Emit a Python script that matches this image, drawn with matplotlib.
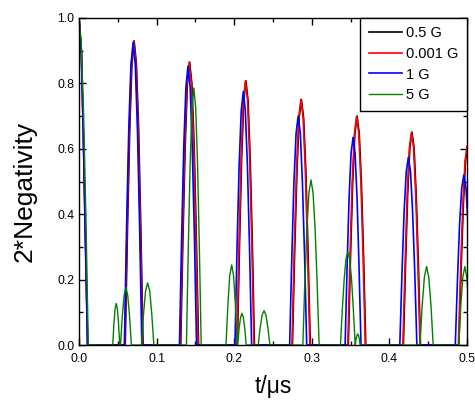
import matplotlib
matplotlib.use("Agg")
import matplotlib.pyplot as plt
from matplotlib.ticker import MultipleLocator

plt.rcParams['font.family'] = ['Liberation Sans', 'DejaVu Sans']

# 0.001 G (red)
red_t = [0.0, 0.003, 0.0055, 0.008, 0.011,
         0.059, 0.0619, 0.0648, 0.0676, 0.0705, 0.0734, 0.0763, 0.0791, 0.082,
         0.1305, 0.1334, 0.1363, 0.1391, 0.142, 0.1449, 0.1478, 0.1506, 0.1535,
         0.2035, 0.2063, 0.209, 0.2118, 0.2145, 0.2173, 0.22, 0.2228, 0.2255,
         0.2745, 0.2774, 0.2803, 0.2831, 0.286, 0.2889, 0.2918, 0.2946, 0.2975,
         0.3465, 0.3493, 0.3521, 0.355, 0.3578, 0.3606, 0.3634, 0.3662, 0.369,
         0.4175, 0.4203, 0.423, 0.4258, 0.4285, 0.4313, 0.434, 0.4368, 0.4395,
         0.489, 0.4919, 0.4948, 0.4976, 0.5005, 0.5034]
red_y = [1.0, 0.9, 0.65, 0.35, 0.0,
         0, 0.356, 0.658, 0.859, 0.93, 0.859, 0.658, 0.356, 0,
         0, 0.331, 0.612, 0.799, 0.865, 0.799, 0.612, 0.331, 0,
         0, 0.309, 0.571, 0.747, 0.808, 0.747, 0.571, 0.309, 0,
         0, 0.288, 0.531, 0.694, 0.751, 0.694, 0.531, 0.288, 0,
         0, 0.268, 0.495, 0.647, 0.70, 0.647, 0.495, 0.268, 0,
         0, 0.249, 0.460, 0.602, 0.651, 0.602, 0.460, 0.249, 0,
         0, 0.234, 0.431, 0.564, 0.61, 0.564]

# 0.5 G (black)
black_t = [0.0, 0.003, 0.0056, 0.0082, 0.0112,
           0.0596, 0.0625, 0.0654, 0.0682, 0.0711, 0.074, 0.0769, 0.0797, 0.0826,
           0.1311, 0.134, 0.1369, 0.1397, 0.1426, 0.1455, 0.1484, 0.1512, 0.1541,
           0.2041, 0.2069, 0.2096, 0.2124, 0.2151, 0.2179, 0.2206, 0.2234, 0.2261,
           0.2751, 0.278, 0.2809, 0.2837, 0.2866, 0.2895, 0.2924, 0.2952, 0.2981,
           0.3471, 0.3499, 0.3527, 0.3556, 0.3584, 0.3612, 0.364, 0.3668, 0.3696,
           0.4181, 0.4209, 0.4236, 0.4264, 0.4291, 0.4319, 0.4346, 0.4374, 0.4401,
           0.4896, 0.4925, 0.4954, 0.4982, 0.5011, 0.504]
black_y = [1.0, 0.9, 0.65, 0.35, 0.0,
           0, 0.356, 0.658, 0.859, 0.93, 0.859, 0.658, 0.356, 0,
           0, 0.331, 0.612, 0.799, 0.865, 0.799, 0.612, 0.331, 0,
           0, 0.309, 0.571, 0.747, 0.808, 0.747, 0.571, 0.309, 0,
           0, 0.288, 0.531, 0.694, 0.751, 0.694, 0.531, 0.288, 0,
           0, 0.268, 0.495, 0.647, 0.70, 0.647, 0.495, 0.268, 0,
           0, 0.249, 0.460, 0.602, 0.651, 0.602, 0.460, 0.249, 0,
           0, 0.234, 0.431, 0.564, 0.61, 0.564]

# 1 G (blue)
blue_t = [0.0, 0.003, 0.0055, 0.008, 0.011,
          0.0585, 0.0613, 0.0641, 0.0669, 0.0698, 0.0726, 0.0754, 0.0782, 0.081,
          0.1295, 0.1323, 0.135, 0.1378, 0.1405, 0.1433, 0.146, 0.1488, 0.1515,
          0.201, 0.2037, 0.2064, 0.2091, 0.2118, 0.2144, 0.2171, 0.2198, 0.2225,
          0.2715, 0.2743, 0.277, 0.2798, 0.2825, 0.2853, 0.288, 0.2908, 0.2935,
          0.343, 0.3456, 0.3481, 0.3507, 0.3533, 0.3558, 0.3584, 0.3609, 0.3635,
          0.4135, 0.4163, 0.419, 0.4218, 0.4245, 0.4273, 0.43, 0.4328, 0.4355,
          0.485, 0.4878, 0.4905, 0.4933, 0.496, 0.4988, 0.5015, 0.5043, 0.507]
blue_y = [1.0, 0.9, 0.65, 0.35, 0.0,
          0, 0.354, 0.654, 0.855, 0.925, 0.855, 0.654, 0.354, 0,
          0, 0.327, 0.603, 0.788, 0.853, 0.788, 0.603, 0.327, 0,
          0, 0.297, 0.548, 0.716, 0.775, 0.716, 0.548, 0.297, 0,
          0, 0.268, 0.495, 0.647, 0.70, 0.647, 0.495, 0.268, 0,
          0, 0.243, 0.449, 0.587, 0.635, 0.587, 0.449, 0.243, 0,
          0, 0.220, 0.406, 0.530, 0.574, 0.530, 0.406, 0.220, 0,
          0, 0.199, 0.368, 0.480, 0.52, 0.480, 0.368, 0.199, 0]

# 5 G (green)
green_t = [0.0, 0.003, 0.006, 0.009, 0.012,
           0.0435, 0.045, 0.0465, 0.048, 0.0495, 0.051, 0.0525,
           0.0535, 0.0558, 0.0582, 0.0605, 0.0628, 0.0652, 0.0675,
           0.0805, 0.0832, 0.0858, 0.0885, 0.0912, 0.0938, 0.0965,
           0.1385, 0.1409, 0.1433, 0.1456, 0.148, 0.1504, 0.1528, 0.1551, 0.1575,
           0.1895, 0.1919, 0.1943, 0.1968, 0.1992, 0.2016, 0.204,
           0.2045, 0.2063, 0.2082, 0.21, 0.2118, 0.2137, 0.2155,
           0.231, 0.2335, 0.236, 0.2385, 0.241, 0.2435, 0.246,
           0.2885, 0.2911, 0.2938, 0.2964, 0.299, 0.3016, 0.3043, 0.3069, 0.3095,
           0.337, 0.3394, 0.3418, 0.3441, 0.3465, 0.3489, 0.3513, 0.3536, 0.356,
           0.3571, 0.3582, 0.3593, 0.3603, 0.3614, 0.3625,
           0.4395, 0.4423, 0.4452, 0.448, 0.4508, 0.4537, 0.4565,
           0.4895, 0.4921, 0.4947, 0.4973, 0.4998, 0.5024, 0.505]
green_y = [1.0, 0.92, 0.70, 0.38, 0.0,
           0, 0.064, 0.11, 0.127, 0.11, 0.064, 0,
           0, 0.088, 0.152, 0.176, 0.152, 0.088, 0,
           0, 0.095, 0.165, 0.19, 0.165, 0.095, 0,
           0, 0.301, 0.556, 0.726, 0.786, 0.726, 0.556, 0.301, 0,
           0, 0.123, 0.212, 0.245, 0.212, 0.123, 0,
           0, 0.049, 0.084, 0.097, 0.084, 0.049, 0,
           0, 0.053, 0.091, 0.105, 0.091, 0.053, 0,
           0, 0.193, 0.357, 0.467, 0.505, 0.467, 0.357, 0.193, 0,
           0, 0.109, 0.201, 0.263, 0.285, 0.263, 0.201, 0.109, 0,
           0.017, 0.029, 0.034, 0.029, 0.017, 0,
           0, 0.12, 0.208, 0.24, 0.208, 0.12, 0,
           0, 0.12, 0.208, 0.24, 0.208, 0.12, 0]

fig = plt.figure(figsize=(4.75, 4.07), dpi=100)
ax = fig.add_axes([0.1663, 0.1523, 0.8167, 0.8035])

ax.plot(black_t, black_y, color='black', lw=1.2, label='0.5 G')
ax.plot(red_t, red_y, color='red', lw=1.2, label='0.001 G')
ax.plot(blue_t, blue_y, color='blue', lw=1.2, label='1 G')
ax.plot(green_t, green_y, color='green', lw=1.0, label='5 G')

ax.set_xlim(0, 0.5)
ax.set_ylim(0, 1.0)
ax.xaxis.set_major_locator(MultipleLocator(0.1))
ax.xaxis.set_minor_locator(MultipleLocator(0.05))
ax.yaxis.set_major_locator(MultipleLocator(0.2))
ax.yaxis.set_minor_locator(MultipleLocator(0.1))
ax.tick_params(which='both', direction='in', top=True, right=True, labelsize=8.7)
ax.tick_params(which='major', length=5, width=1)
ax.tick_params(axis='x', which='major', pad=6)
ax.tick_params(which='minor', length=3, width=1)
for s in ax.spines.values():
    s.set_linewidth(1.0)

ax.set_xlabel('t/μs', fontsize=16.5, labelpad=7)
ax.set_ylabel('2*Negativity', fontsize=19)
ax.yaxis.set_label_coords(-0.108, 0.471)

leg = ax.legend(loc='upper right', borderaxespad=0, fancybox=False, edgecolor='black',
                framealpha=1, fontsize=10.5, handlelength=2.25, labelspacing=0.45,
                handletextpad=0.3, borderpad=0.58)
leg.get_frame().set_linewidth(1.0)

fig.savefig('out.png', dpi=100)
